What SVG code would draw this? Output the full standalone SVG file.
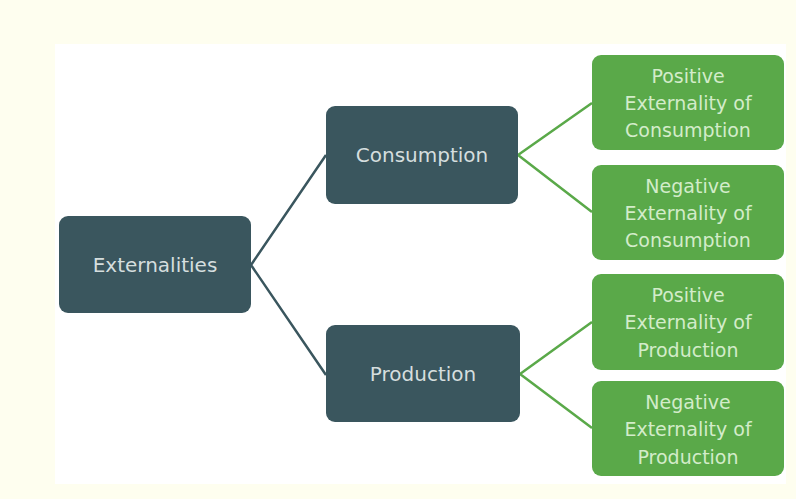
<svg xmlns="http://www.w3.org/2000/svg" width="796" height="499" viewBox="0 0 796 499">
<style>
.d{fill:#3a565e}.g{fill:#5aa949}
.td{fill:#d5dede;font-family:"DejaVu Sans",sans-serif;font-size:20px;text-anchor:middle}
.tg{fill:#d3ecca;font-family:"DejaVu Sans",sans-serif;font-size:19px;text-anchor:middle}
</style>
<rect width="796" height="499" fill="#fefeef"/>
<rect x="55" y="44" width="731" height="440" fill="#fff"/>
<g id="connectors" fill="none" stroke-width="2.5">
<path d="M251 265L326 155M251 265L326 375" stroke="#3a565e"/>
<path d="M518 155L592 103M518 155L592 212M520 374L592 322M520 374L592 428" stroke="#5aa949"/>
</g>
<g id="externalities"><rect class="d" x="59" y="216" width="192" height="97" rx="9"/><text class="td" x="155" y="272">Externalities</text></g>
<g id="consumption"><rect class="d" x="326" y="106" width="192" height="98" rx="9"/><text class="td" x="422" y="162">Consumption</text></g>
<g id="production"><rect class="d" x="326" y="325" width="194" height="97" rx="9"/><text class="td" x="423" y="381">Production</text></g>
<g id="pos-cons"><rect class="g" x="592" y="55" width="192" height="95" rx="9"/><text class="tg" x="688" y="83">Positive</text><text class="tg" x="688" y="110">Externality of</text><text class="tg" x="688" y="137">Consumption</text></g>
<g id="neg-cons"><rect class="g" x="592" y="165" width="192" height="95" rx="9"/><text class="tg" x="688" y="193">Negative</text><text class="tg" x="688" y="220">Externality of</text><text class="tg" x="688" y="247">Consumption</text></g>
<g id="pos-prod"><rect class="g" x="592" y="274" width="192" height="96" rx="9"/><text class="tg" x="688" y="302">Positive</text><text class="tg" x="688" y="329">Externality of</text><text class="tg" x="688" y="357">Production</text></g>
<g id="neg-prod"><rect class="g" x="592" y="381" width="192" height="95" rx="9"/><text class="tg" x="688" y="409">Negative</text><text class="tg" x="688" y="436">Externality of</text><text class="tg" x="688" y="464">Production</text></g>
</svg>
